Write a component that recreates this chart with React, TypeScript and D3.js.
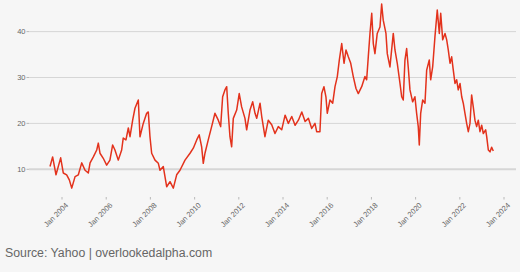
import React from "react";
import * as d3 from "d3";

const dates2003_2008 = [
  "2003-06-17","2003-07-30","2003-09-24","2003-12-10","2004-01-22","2004-03-18","2004-05-01","2004-06-10",
  "2004-08-04","2004-09-27","2004-11-22","2005-01-16","2005-03-11","2005-04-09","2005-06-02","2005-07-28",
  "2005-08-23","2005-09-20","2005-11-13","2006-01-08","2006-03-03","2006-04-17","2006-05-25","2006-07-19",
  "2006-09-13","2006-10-09","2006-11-23","2007-01-01","2007-01-29","2007-03-14","2007-04-21","2007-06-15",
  "2007-07-13","2007-09-05","2007-10-31","2007-11-27","2007-12-25","2008-01-22","2008-03-17","2008-05-11",
  "2008-06-08","2008-08-01","2008-09-26","2008-11-20"
];
const prices2003_2008 = [
  10.6,12.7,8.8,12.5,9.2,8.8,7.7,5.9,
  8.4,8.8,11.4,9.8,9.2,11.4,12.7,14.2,
  15.7,13.5,12.4,10.9,12,15.3,14.2,12,
  14.2,16.8,16.4,19,17.1,20.7,23.3,25.1,
  17.1,20,22.2,22.5,17.1,13.5,12,11.3,
  9.8,10.6,6.2,7.3
];

const dates2009_2015 = [
  "2009-01-14","2009-03-10","2009-05-04","2009-07-26","2009-10-17","2009-12-10","2010-02-04","2010-03-18",
  "2010-04-27","2010-05-24","2010-06-21","2010-08-14","2010-10-09","2010-12-03","2011-01-27","2011-03-07",
  "2011-04-09","2011-05-17","2011-06-15","2011-07-11","2011-08-08","2011-09-05","2011-10-02","2011-11-27",
  "2012-01-08","2012-02-17","2012-04-12","2012-05-10","2012-07-04","2012-08-18","2012-09-25","2012-10-23",
  "2012-12-17","2013-01-14","2013-03-08","2013-05-02","2013-06-28","2013-08-21","2013-10-15","2013-12-10",
  "2014-02-04","2014-03-30","2014-05-25","2014-07-19","2014-09-12","2014-11-07","2015-01-01","2015-02-24",
  "2015-04-20","2015-06-13","2015-07-11","2015-09-03"
];
const prices2009_2015 = [
  5.9,8.8,9.8,12,13.5,14.6,16.4,17.5,
  14.9,11.3,13.5,16.4,19.3,22.2,20.7,19.3,
  25.8,27.3,28,22.2,17.1,14.9,21.1,22.9,
  26.5,23.6,21.1,18.6,22.9,24.7,22.2,21.1,
  24.4,21.5,17.1,20.7,19.7,17.8,19.3,18.6,
  21.8,20,21.5,19.6,20.7,22.5,20.4,21.1,
  18.9,20,18.2,18.2
];

const dates2015_2019 = [
  "2015-10-02","2015-11-08","2015-12-11","2016-01-02","2016-02-16","2016-04-01","2016-05-09","2016-06-16",
  "2016-07-19","2016-08-28","2016-10-05","2016-11-07","2016-12-15","2017-01-24","2017-03-07","2017-04-21",
  "2017-05-29","2017-07-24","2017-09-16","2017-10-14","2017-11-10","2017-12-08","2018-01-06","2018-02-01",
  "2018-02-28","2018-04-07","2018-05-22","2018-06-19","2018-07-15","2018-08-29","2018-09-20","2018-11-03",
  "2018-12-28","2019-01-25","2019-03-04","2019-04-18","2019-05-16","2019-06-11","2019-07-09","2019-08-06",
  "2019-09-01","2019-09-30","2019-11-13","2019-12-21"
];
const prices2015_2019 = [
  26.5,28,25.8,22.2,25.1,24.4,28,30.2,
  33.8,37.4,33.1,36,34.5,33.1,30.2,27.6,
  26.5,28,30.2,29.5,34.5,39.6,44,37.4,
  35.2,39.6,41,46,42.5,39.6,35.2,32.3,
  39.6,36,33.1,28.7,25.8,25.1,33.8,36.3,
  32.3,27.3,24.7,25.8
];

const dates2020_2023 = [
  "2020-01-18","2020-02-14","2020-03-02","2020-03-25","2020-04-27","2020-06-04","2020-07-02","2020-08-14",
  "2020-09-06","2020-10-09","2020-11-16","2020-12-24","2021-01-27","2021-02-19","2021-03-24","2021-05-01",
  "2021-05-29","2021-06-24","2021-07-23","2021-08-19","2021-09-15","2021-10-13","2021-11-10","2021-12-06",
  "2022-01-04","2022-02-01","2022-02-27","2022-03-27","2022-04-24","2022-05-21","2022-06-18","2022-07-15",
  "2022-08-11","2022-09-08","2022-10-06","2022-11-02","2022-11-30","2022-12-28","2023-01-24","2023-03-04",
  "2023-03-21","2023-04-17","2023-05-15","2023-06-11","2023-07-08"
];
const prices2020_2023 = [
  22.2,19.3,15.3,22.2,25.1,24.4,31.6,33.8,
  29.5,32.3,38.9,44.7,39.6,44,38.2,39.6,
  38.2,36,33.1,34.5,31.6,28.7,29.5,27.3,
  28.7,25.8,24.4,22.2,20,18.2,20,26.2,
  23.6,20.7,19.3,20.7,18.2,19.6,17.8,18.6,
  17.1,14.2,13.8,14.8,14
];

const yTicks = [10, 20, 30, 40];
const xTickYears = [2004, 2006, 2008, 2010, 2012, 2014, 2016, 2018, 2020, 2022, 2024];
const sourceText = "Source: Yahoo | overlookedalpha.com";

const parse = d3.timeParse("%Y-%m-%d");
const allDates = [...dates2003_2008, ...dates2009_2015, ...dates2015_2019, ...dates2020_2023];
const allPrices = [...prices2003_2008, ...prices2009_2015, ...prices2015_2019, ...prices2020_2023];
const series = allDates.map((d, i) => ({ date: parse(d) as Date, value: allPrices[i] }));

export default function App() {
  const W = 520, H = 272;
  const plotLeft = 29, plotRight = 516, plotBottom = 197;
  const x = d3.scaleTime()
    .domain([new Date(2004, 0, 1), new Date(2024, 0, 1)])
    .range([62, 504]);
  const y = d3.scaleLinear().domain([10, 40]).range([169.3, 31.6]);
  const line = d3.line<{ date: Date; value: number }>()
    .x(d => x(d.date))
    .y(d => y(d.value))
    .curve(d3.curveLinear);
  const font = "'Liberation Sans', Arial, Helvetica, sans-serif";
  return (
    <svg width={W} height={H} style={{ position: "absolute", left: 0, top: 0, background: "#f6f6f6" }}>
      <rect x={0} y={0} width={W} height={H} fill="#f6f6f6" />
      {yTicks.map(t => (
        <g key={t}>
          <line x1={plotLeft} x2={plotRight} y1={y(t)} y2={y(t)} stroke="#d6d6d6" strokeWidth={t === 10 ? 2 : 1} />
          <line x1={plotLeft - 2.5} x2={plotLeft} y1={y(t)} y2={y(t)} stroke="#aaa" strokeWidth={0.8} />
          <text x={plotLeft - 3.5} y={y(t)} dy="0.35em" textAnchor="end" fontSize={7.5} fill="#666" fontFamily={font}>{t}</text>
        </g>
      ))}
      {xTickYears.map(yr => {
        const tx = x(new Date(yr, 0, 1));
        return (
          <g key={yr}>
            <line x1={tx} x2={tx} y1={plotBottom} y2={plotBottom + 2.5} stroke="#aaa" strokeWidth={0.8} />
            <text transform={`translate(${tx + 3},${plotBottom + 5}) rotate(-45)`} textAnchor="end" dy="0.7em" fontSize={7.5} fill="#666" fontFamily={font}>
              {`Jan ${yr}`}
            </text>
          </g>
        );
      })}
      <path d={line(series) || ""} fill="none" stroke="#e3321c" strokeWidth={1.5} strokeLinejoin="round" />
      <text x={5} y={256.5} fontSize={12.3} fill="#666" fontFamily={font}>{sourceText}</text>
    </svg>
  );
}
